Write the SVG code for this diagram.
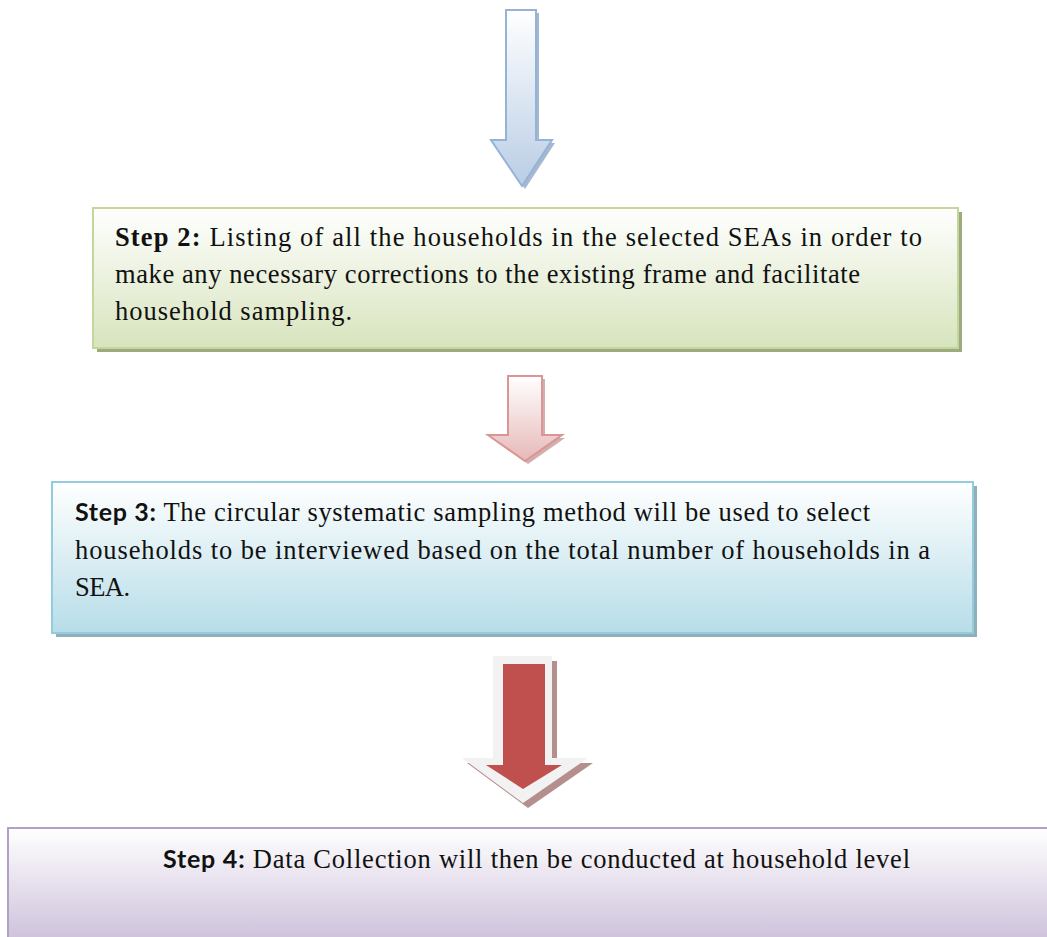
<svg xmlns="http://www.w3.org/2000/svg" width="1047" height="937" viewBox="0 0 1047 937">
<defs>
<linearGradient id="gGreen" x1="0" y1="0" x2="0" y2="1"><stop offset="0" stop-color="#ffffff"/><stop offset="1" stop-color="#d7e4bd"/></linearGradient>
<linearGradient id="gBlue" x1="0" y1="0" x2="0" y2="1"><stop offset="0" stop-color="#ffffff"/><stop offset="1" stop-color="#b7dde8"/></linearGradient>
<linearGradient id="gPurple" x1="0" y1="0" x2="0" y2="1"><stop offset="0" stop-color="#ffffff"/><stop offset="1" stop-color="#ccc0da"/></linearGradient>
<linearGradient id="gArrow1" x1="0" y1="0" x2="0" y2="1"><stop offset="0" stop-color="#ffffff"/><stop offset="1" stop-color="#b9cde5"/></linearGradient>
<linearGradient id="gArrow2" x1="0" y1="0" x2="0" y2="1"><stop offset="0" stop-color="#ffffff"/><stop offset="1" stop-color="#e6b9b8"/></linearGradient>
</defs>
<style>
.body{font-family:"Liberation Serif","Times New Roman",serif;font-size:26.5px;fill:#111}
.bs{font-weight:bold}
.bsans{font-family:"Lato","Liberation Sans",sans-serif;font-weight:bold;font-size:25px}
</style>
<g id="connectors">
  <g id="arrow1">
    <polygon points="509,13 539,13 539,143 555,143 525,189 494,143 509,143" fill="#8ea6c6" opacity="0.8"/>
    <polygon points="506,10 536,10 536,140 552,140 522,186 491,140 506,140" fill="url(#gArrow1)" stroke="#95b3d7" stroke-width="2"/>
  </g>
  <g id="arrow2">
    <polygon points="511,379 545,379 545,438 565,438 528,464 491,438 511,438" fill="#c79a98" opacity="0.8"/>
    <polygon points="508,376 542,376 542,435 562,435 525,461 488,435 508,435" fill="url(#gArrow2)" stroke="#d99694" stroke-width="2"/>
  </g>
  <g id="arrow3">
    <polygon points="498,661 557,661 557,763 593,763 528,808 467,763 498,763" fill="#b58f8e"/>
    <polygon points="493,656 552,656 552,758 588,758 523,803 462,758 493,758" fill="#f2f2f2"/>
    <polygon points="503,664 545,664 545,765 562,765 523,789 486,765 503,765" fill="#c0504d"/>
  </g>
</g>
<g id="step2">
  <rect x="97" y="212" width="865" height="140" fill="#9bab7e"/>
  <rect x="93" y="208" width="865" height="140" fill="url(#gGreen)" stroke="#c3d69b" stroke-width="2"/>
  <text class="body" x="115" y="246" textLength="807"><tspan class="bs">Step 2:</tspan> Listing of all the households in the selected SEAs in order to</text>
  <text class="body" x="115" y="283" textLength="745">make any necessary corrections to the existing frame and facilitate</text>
  <text class="body" x="115" y="320" textLength="237">household sampling.</text>
</g>
<g id="step3">
  <rect x="56" y="486" width="921" height="151" fill="#8fb0ba"/>
  <rect x="52" y="482" width="921" height="151" fill="url(#gBlue)" stroke="#93cddd" stroke-width="2"/>
  <text class="body" x="75" y="521" textLength="795"><tspan class="bsans">Step 3:</tspan> The circular systematic sampling method will be used to select</text>
  <text class="body" x="75" y="559" textLength="855">households to be interviewed based on the total number of households in a</text>
  <text class="body" x="75" y="596" textLength="55">SEA.</text>
</g>
<g id="step4">
  <rect x="8" y="828" width="1045" height="115" fill="url(#gPurple)" stroke="#b2a1c7" stroke-width="2"/>
  <text class="body" x="163" y="868" textLength="747"><tspan class="bsans">Step 4:</tspan> Data Collection will then be conducted at household level</text>
</g>
</svg>
